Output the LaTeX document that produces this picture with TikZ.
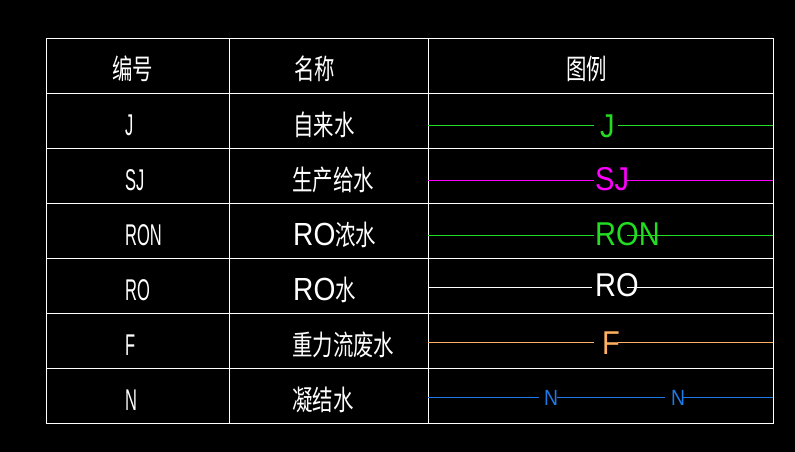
\documentclass[tikz,border=0pt]{standalone}
\usepackage{fontspec}
\newfontfamily\cjkfont[FakeStretch=0.73]{Noto Sans CJK SC}
\newfontfamily\narrowfont[FakeStretch=0.55]{Liberation Sans}
\newfontfamily\widefont[FakeStretch=0.88]{Liberation Sans}
\definecolor{pipegreen}{RGB}{34,221,34}
\definecolor{pipemagenta}{RGB}{255,0,255}
\definecolor{pipeorange}{RGB}{255,176,96}
\definecolor{pipeblue}{RGB}{30,122,230}

\begin{document}
\begin{tikzpicture}[x=1pt,y=-1pt,
		every node/.style={inner sep=0pt,anchor=west,text=white},
		codetext/.style={font=\narrowfont\fontsize{30}{30}\selectfont},
		nametext/.style={font=\cjkfont\fontsize{28}{28}\selectfont},
		legendtext/.style={font=\widefont\fontsize{33}{33}\selectfont},
		gridline/.style={draw=white,line width=0.9pt},
		pipe/.style={line width=0.9pt}]
		\fill[black] (0,0) rectangle (795,452);

		% table
		\draw[gridline] (46,38) rectangle (773,423);
		\foreach \y in {93,148,...,368} \draw[gridline] (46,\y) -- (773,\y);
		\foreach \x in {229,428} \draw[gridline] (\x,38) -- (\x,423);

		% header
		\node[nametext] (hcode)   at (112,69) {编号};
		\node[nametext] (hname)   at (294,69) {名称};
		\node[nametext] (hlegend) at (566,69) {图例};

		% codes
		\node[codetext] (cJ)   at (125,125) {J};
		\node[codetext] (cSJ)  at (125,180) {SJ};
		\node[codetext] (cRON) at (125,235) {RON};
		\node[codetext] (cRO)  at (125,290) {RO};
		\node[codetext] (cF)   at (125,345) {F};
		\node[codetext] (cN)   at (125,400) {N};

		% names
		\node[nametext] (nJ)   at (293,125) {自来水};
		\node[nametext] (nSJ)  at (292,180) {生产给水};
		\node[nametext] (nRON) at (293,235) {{\widefont\fontsize{32}{32}\selectfont RO}浓水};
		\node[nametext] (nRO)  at (293,290) {{\widefont\fontsize{32}{32}\selectfont RO}水};
		\node[nametext] (nF)   at (292,345) {重力流废水};
		\node[nametext] (nN)   at (292,400) {凝结水};

		% legend
		\node[legendtext,text=pipegreen]   (lJ)   at (600,126) {J};
		\node[legendtext,text=pipemagenta] (lSJ)  at (595,179) {SJ};
		\node[legendtext,text=pipegreen]   (lRON) at (595,234) {RON};
		\node[legendtext]                  (lRO)  at (595,285) {RO};
		\node[legendtext,text=pipeorange]  (lF)   at (602,343) {F};
		\node[legendtext,text=pipeblue,font=\widefont\fontsize{22}{22}\selectfont] (lN1) at (544,398) {N};
		\node[legendtext,text=pipeblue,font=\widefont\fontsize{22}{22}\selectfont] (lN2) at (671,398) {N};

		\draw[pipe,pipegreen]   (428,125) -- (594,125) (618,125) -- (773,125);
		\draw[pipe,pipemagenta] (428,180) -- (594,180) (627,180) -- (773,180);
		\draw[pipe,pipegreen]   (428,235) -- (594,235) (627,235) -- (773,235);
		\draw[pipe,white]       (428,287) -- (592,287) (627,287) -- (773,287);
		\draw[pipe,pipeorange]  (428,342) -- (594,342) (618,342) -- (773,342);
		\draw[pipe,pipeblue]    (428,397) -- (539,397) (557,397) -- (665,397) (683,397) -- (773,397);
	\end{tikzpicture}
\end{document}
